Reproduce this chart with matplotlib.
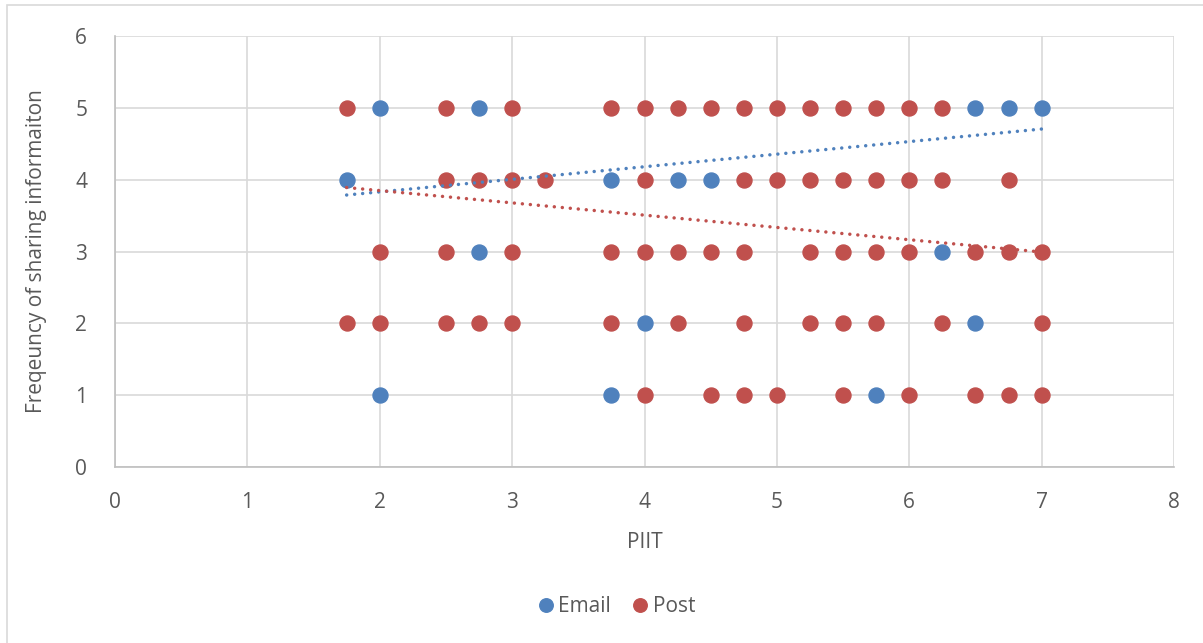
import matplotlib.pyplot as plt
import numpy as np
from matplotlib.patches import Rectangle

plt.rcParams["font.family"] = ["Open Sans", "DejaVu Sans"]

# Email responses (PIIT score, frequency of sharing)
email_x = [2, 2.75, 6.5, 6.75, 7,
           1.75, 3.75, 4.25, 4.5,
           2.75, 6.25,
           4, 6.5,
           2, 3.75, 5.75]
email_y = [5, 5, 5, 5, 5,
           4, 4, 4, 4,
           3, 3,
           2, 2,
           1, 1, 1]

# Post responses
post_x = [1.75, 2.5, 3, 3.75, 4, 4.25, 4.5, 4.75, 5, 5.25, 5.5, 5.75, 6, 6.25,
          2.5, 2.75, 3, 3.25, 4, 4.75, 5, 5.25, 5.5, 5.75, 6, 6.25, 6.75,
          2, 2.5, 3, 3.75, 4, 4.25, 4.5, 4.75, 5.25, 5.5, 5.75, 6, 6.5, 6.75, 7,
          1.75, 2, 2.5, 2.75, 3, 3.75, 4.25, 4.75, 5.25, 5.5, 5.75, 6.25, 7,
          4, 4.5, 4.75, 5, 5.5, 6, 6.5, 6.75, 7]
post_y = [5] * 14 + [4] * 13 + [3] * 15 + [2] * 13 + [1] * 9

# Linear trendlines (slope, intercept) over the full response set
email_trend = (0.175, 3.48)
post_trend = (-0.171, 4.19)
trend_range = (1.75, 7)

blue = "#4f81bd"
red = "#c0504d"
grid = "#d9d9d9"
text = "#595959"
fs = 15

fig = plt.figure(figsize=(12.03, 6.43), dpi=100)
ax = fig.add_axes([115 / 1203, 1 - 467 / 643, (1174 - 115) / 1203, (467 - 36) / 643])

# chart area border
fig.patches.append(Rectangle((7 / 1203, -0.1), 1.2, 1 - 5 / 643 + 0.1,
                             transform=fig.transFigure, fill=False,
                             edgecolor="#d9d9d9", linewidth=1.2))

ax.plot(email_x, email_y, "o", color=blue, markersize=10.8, label="Email", zorder=3)
ax.plot(post_x, post_y, "o", color=red, markersize=10.8, label="Post", zorder=4)

tx = np.array(trend_range)
for (m, b), c in [(email_trend, blue), (post_trend, red)]:
    ax.plot(tx, m * tx + b, color=c, linewidth=2.5,
            linestyle=(0, (0.01, 2.3)), dash_capstyle="round", zorder=5)

ax.set_xlim(0, 8)
ax.set_ylim(0, 6)
ax.set_xticks(range(0, 9))
ax.set_yticks(range(0, 7))
ax.grid(True, color=grid, linewidth=1.2)
ax.set_axisbelow(True)
for side in ["top", "right"]:
    ax.spines[side].set_visible(False)
for side in ["left", "bottom"]:
    ax.spines[side].set_color("#bfbfbf")
    ax.spines[side].set_linewidth(1.2)
ax.tick_params(length=0, labelsize=fs, labelcolor=text)
ax.tick_params(axis="x", pad=18)
ax.tick_params(axis="y", pad=20)

ax.set_xlabel("PIIT", fontsize=fs, color=text, labelpad=14)
ax.set_ylabel("Freqeuncy of sharing informaiton", fontsize=fs, color=text, labelpad=20)

fig.legend(loc="center", bbox_to_anchor=(616 / 1203, 1 - 607 / 643), ncol=2,
           frameon=False, fontsize=fs, labelcolor=text, handlelength=0.9,
           handletextpad=0.15, columnspacing=0.95, markerscale=0.9)

fig.savefig("out.png", dpi=100)
